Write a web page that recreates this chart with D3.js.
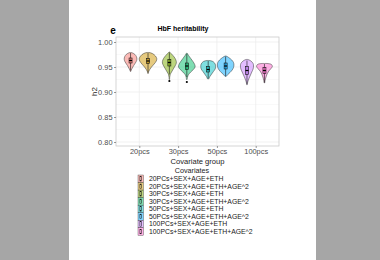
<!DOCTYPE html>
<html><head><meta charset="utf-8">
<script src="https://cdn.jsdelivr.net/npm/d3@7"></script>
<style>html,body{margin:0;padding:0;background:#a6a6a6;}svg{display:block;}</style>
</head><body>
<svg id="c" width="380" height="260"></svg>
<script>
// ---- data ----
const groups = ["20pcs", "30pcs", "50pcs", "100pcs"];
const subs = ["base", "age2"];
const covariates = ["20PCs+SEX+AGE+ETH","20PCs+SEX+AGE+ETH+AGE^2","30PCs+SEX+AGE+ETH","30PCs+SEX+AGE+ETH+AGE^2","50PCs+SEX+AGE+ETH","50PCs+SEX+AGE+ETH+AGE^2","100PCs+SEX+AGE+ETH","100PCs+SEX+AGE+ETH+AGE^2"];
const colors = ["#F8766D","#CD9600","#7CAE00","#00BE67","#00BFC4","#00A9FF","#C77CFF","#FF61CC"];
const yTicks = [0.80, 0.85, 0.90, 0.95, 1.00];
const yMinor = [0.825, 0.875, 0.925, 0.975];
// violin outlines: [h2, relative density width]
const dens20a = [[0.979,0.05],[0.977,0.35],[0.973,0.6],[0.968,0.72],[0.963,0.7],[0.958,0.55],[0.953,0.36],[0.948,0.2],[0.944,0.08],[0.941,0.02]];
const dens20b = [[0.979,0.1],[0.977,0.5],[0.972,0.85],[0.967,1.0],[0.962,0.95],[0.956,0.7],[0.950,0.4],[0.945,0.2],[0.941,0.08],[0.937,0.02]];
const dens30a = [[0.980,0.02],[0.976,0.25],[0.970,0.55],[0.964,0.75],[0.958,0.8],[0.952,0.65],[0.946,0.45],[0.940,0.25],[0.935,0.1],[0.930,0.04],[0.925,0.02]];
const dens30b = [[0.978,0.02],[0.973,0.2],[0.967,0.45],[0.961,0.7],[0.955,0.9],[0.950,0.95],[0.945,0.75],[0.940,0.45],[0.935,0.2],[0.930,0.08],[0.925,0.03]];
const dens50a = [[0.963,0.1],[0.961,0.55],[0.956,0.8],[0.951,0.85],[0.946,0.8],[0.941,0.6],[0.936,0.4],[0.931,0.2],[0.926,0.05]];
const dens50b = [[0.972,0.05],[0.969,0.35],[0.964,0.7],[0.959,0.9],[0.954,0.95],[0.949,0.9],[0.944,0.75],[0.939,0.5],[0.935,0.25],[0.931,0.05]];
const dens100a = [[0.965,0.1],[0.962,0.45],[0.957,0.7],[0.952,0.75],[0.946,0.7],[0.940,0.55],[0.934,0.4],[0.928,0.25],[0.922,0.12],[0.917,0.04],[0.914,0.01]];
const dens100b = [[0.957,0.3],[0.955,0.8],[0.951,0.9],[0.947,0.75],[0.942,0.5],[0.936,0.3],[0.930,0.18],[0.924,0.08],[0.918,0.02]];
const densities = [dens20a,dens20b,dens30a,dens30b,dens50a,dens50b,dens100a,dens100b];
// box stats: [whiskerLow, q1, median, q3, whiskerHigh]
const boxStats = [[0.943,0.958,0.963,0.968,0.978],[0.939,0.957,0.962,0.967,0.978],[0.935,0.952,0.959,0.965,0.979],[0.930,0.945,0.952,0.958,0.976],[0.927,0.940,0.945,0.951,0.962],[0.932,0.946,0.952,0.958,0.971],[0.916,0.935,0.943,0.951,0.963],[0.919,0.937,0.943,0.949,0.956]];
const outliers = [[],[],[0.922],[0.920],[],[],[],[]];

// ---- layout ----
const svg = d3.select("#c");
svg.append("rect").attr("x",69).attr("y",0).attr("width",247).attr("height",260).attr("fill","#fff");
const L=116, R=279, T=37, B=146;
const font = "'Liberation Sans', Arial, sans-serif";
const x = d3.scalePoint().domain(groups).range([L,R]).padding(0.6);
const step = x.step();
const xs = d3.scaleBand().domain(subs).range([-step*0.45, step*0.45]);
const y = d3.scaleLinear().domain([0.792,1.01]).range([B,T]);
const w = d3.scaleLinear().domain([0,1]).range([0, xs.bandwidth()/2]);

// grid
const g = svg.append("g");
g.selectAll(".mi").data(yMinor).join("line").attr("x1",L).attr("x2",R).attr("y1",d=>y(d)).attr("y2",d=>y(d)).attr("stroke","#f3f3f3").attr("stroke-width",0.5);
g.selectAll(".ma").data(yTicks).join("line").attr("x1",L).attr("x2",R).attr("y1",d=>y(d)).attr("y2",d=>y(d)).attr("stroke","#ebebeb").attr("stroke-width",0.7);
g.selectAll(".vx").data(groups).join("line").attr("x1",d=>x(d)).attr("x2",d=>x(d)).attr("y1",T).attr("y2",B).attr("stroke","#ebebeb").attr("stroke-width",0.7);
g.append("rect").attr("x",L).attr("y",T).attr("width",R-L).attr("height",B-T).attr("fill","none").attr("stroke","#c4c4c4").attr("stroke-width",0.7);

// violins
const area = d3.area().curve(d3.curveCatmullRom)
  .y(d=>y(d[0])).x0(d=>-w(d[1])).x1(d=>w(d[1]));
covariates.forEach((c,i)=>{
  const grp = groups[Math.floor(i/2)], sub = subs[i%2];
  const cx = x(grp) + xs(sub) + xs.bandwidth()/2;
  const vg = svg.append("g").attr("transform",`translate(${cx},0)`);
  const dd = densities[i];
  const closed = [[dd[0][0], 0], ...dd, [dd[dd.length-1][0], 0]];
  vg.append("path").attr("d", area(closed)).attr("fill",colors[i]).attr("fill-opacity",0.5)
    .attr("stroke","#333").attr("stroke-width",0.5);
  const s = boxStats[i];
  vg.append("line").attr("x1",0).attr("x2",0).attr("y1",y(s[0])).attr("y2",y(s[4])).attr("stroke","#111").attr("stroke-width",0.6);
  vg.append("rect").attr("x",-1.5).attr("width",3).attr("y",y(s[3])).attr("height",y(s[1])-y(s[3]))
    .attr("fill",colors[i]).attr("fill-opacity",0.6).attr("stroke","#111").attr("stroke-width",0.6);
  vg.append("line").attr("x1",-1.5).attr("x2",1.5).attr("y1",y(s[2])).attr("y2",y(s[2])).attr("stroke","#000").attr("stroke-width",1.2);
  vg.selectAll(".o").data(outliers[i]).join("circle").attr("cx",0).attr("cy",d=>y(d)).attr("r",1.1).attr("fill","#000");
});

// axes
const ya = svg.append("g").attr("transform",`translate(${L},0)`)
  .call(d3.axisLeft(y).tickValues(yTicks).tickFormat(d3.format(".2f")).tickSize(2).tickPadding(1.5));
const xa = svg.append("g").attr("transform",`translate(0,${B})`)
  .call(d3.axisBottom(x).tickSize(2).tickPadding(0.5));
[ya,xa].forEach(a=>{
  a.select(".domain").remove();
  a.selectAll("line").attr("stroke","#555").attr("stroke-width",0.6);
  a.selectAll("text").attr("fill","#4d4d4d").attr("font-family",font).attr("font-size",7.4);
});

// titles
svg.append("text").attr("x",113).attr("y",33.5).attr("text-anchor","middle").attr("font-family",font).attr("font-weight","bold").attr("font-size",10).text("e");
svg.append("text").attr("x",183).attr("y",31).attr("text-anchor","middle").attr("font-family",font).attr("font-weight","bold").attr("font-size",7).text("HbF heritability");
svg.append("text").attr("transform",`translate(97,${(T+B)/2}) rotate(-90)`).attr("text-anchor","middle").attr("font-family",font).attr("font-size",8).attr("fill","#222").text("h2");
svg.append("text").attr("x",(L+R)/2).attr("y",163.5).attr("text-anchor","middle").attr("font-family",font).attr("font-size",7.6).attr("fill","#222").text("Covariate group");

// legend
svg.append("text").attr("x",192).attr("y",173).attr("text-anchor","middle").attr("font-family",font).attr("font-size",7.2).attr("fill","#222").text("Covariates");
const ly = d3.scaleBand().domain(covariates).range([175,235.3]);
const lg = svg.append("g");
covariates.forEach((c,i)=>{
  const yy = ly(c), h = ly.bandwidth();
  lg.append("rect").attr("x",138).attr("y",yy).attr("width",5.5).attr("height",h).attr("fill",colors[i]).attr("fill-opacity",0.5).attr("stroke","#444").attr("stroke-width",0.4);
  lg.append("rect").attr("x",139.9).attr("y",yy+1.5).attr("width",1.7).attr("height",h-3).attr("fill","none").attr("stroke","#111").attr("stroke-width",0.5);
  lg.append("text").attr("x",149).attr("y",yy+h/2).attr("dy","0.35em").attr("font-family",font).attr("font-size",6.85).attr("fill","#222").text(c);
});
</script>
</body></html>
